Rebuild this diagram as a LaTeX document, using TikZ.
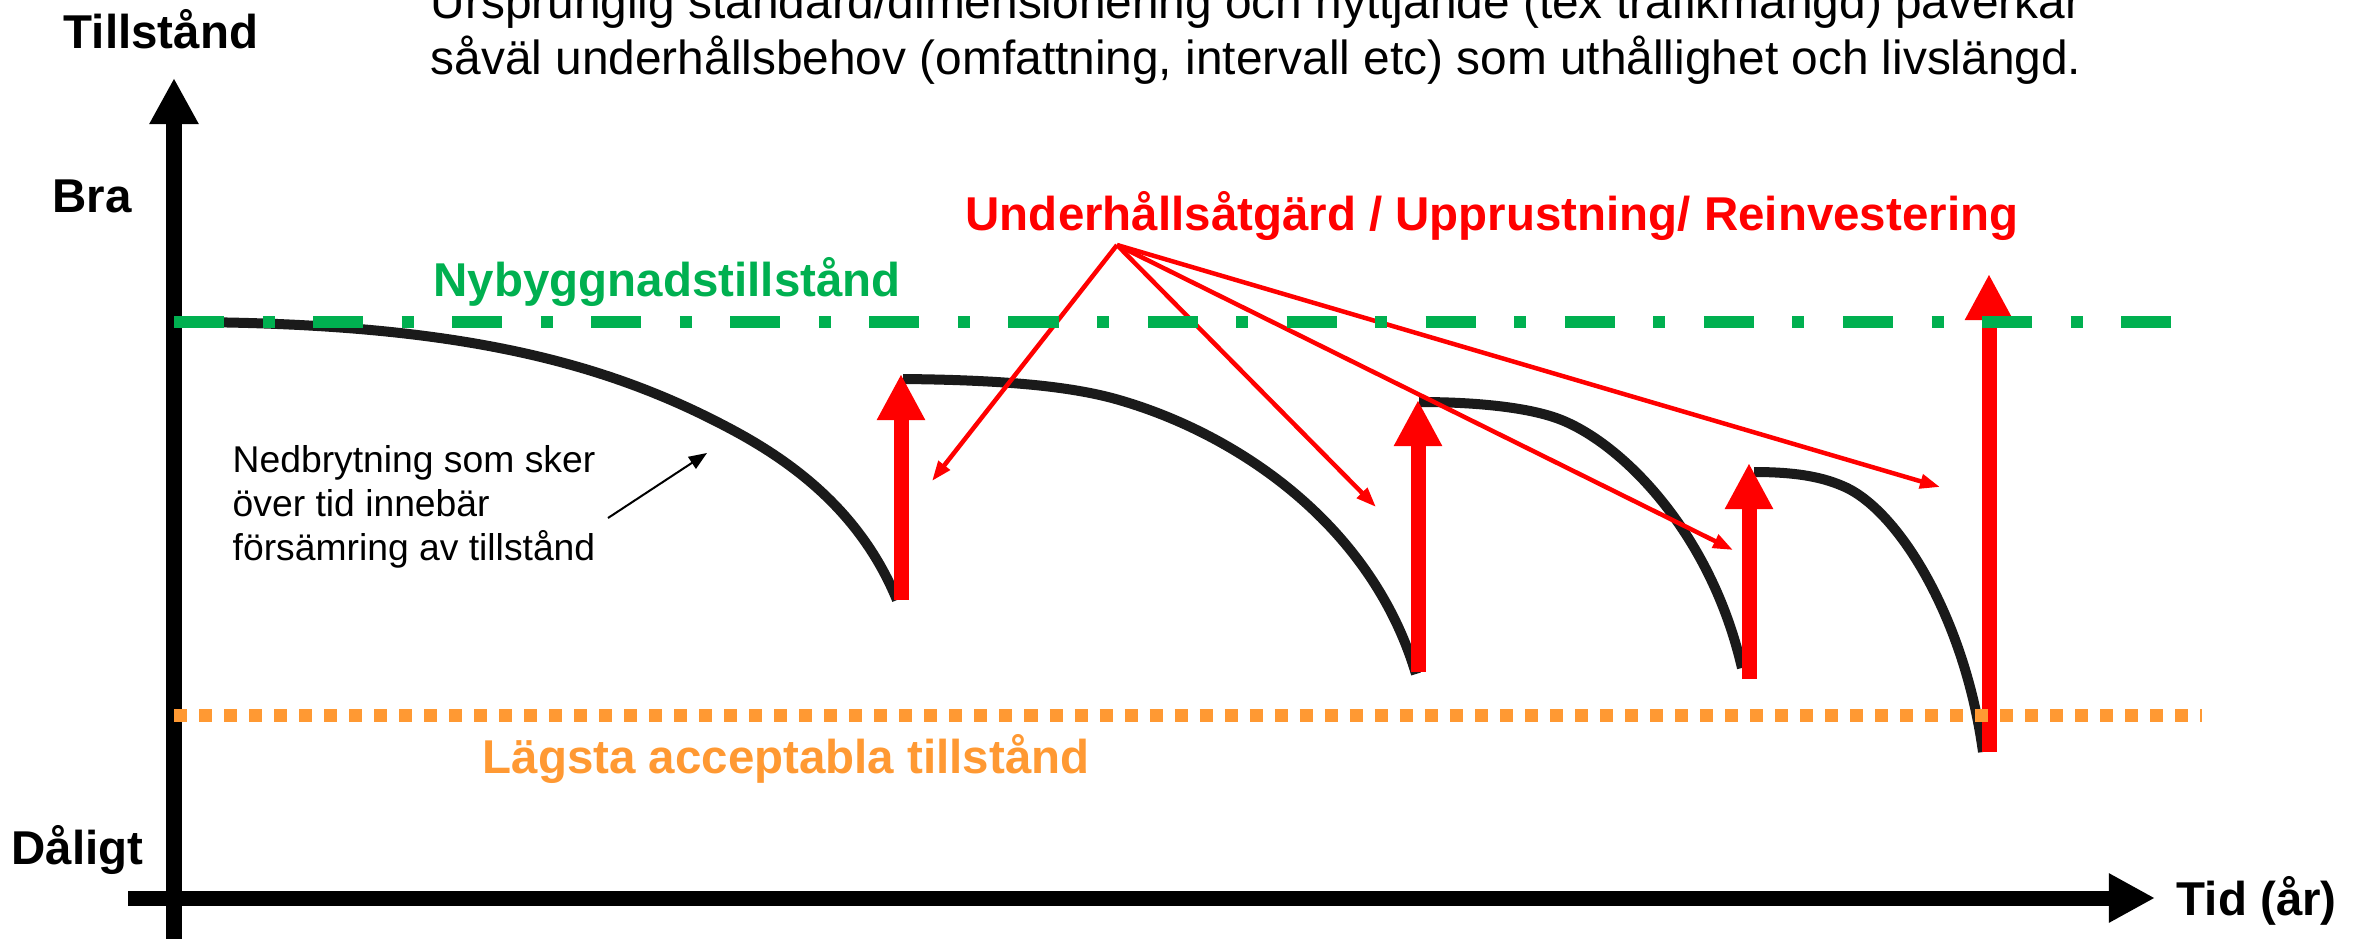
\documentclass[tikz,border=0pt]{standalone}
\usepackage{fontspec}
\setmainfont{Liberation Sans}
\usetikzlibrary{arrows.meta}
\definecolor{nygreen}{RGB}{0,176,80}
\definecolor{lagorange}{RGB}{255,153,51}
\definecolor{curveblack}{RGB}{26,26,26}
\tikzset{
  axis/.style={line width=0.15cm,-{Triangle[length=0.46cm,width=0.46cm]}},
  lift/.style={red,line width=0.15cm,-{Triangle[length=0.46cm,width=0.45cm]}},
  pointer/.style={red,line width=0.045cm,-{Triangle[length=0.2cm,width=0.14cm]}},
  wear/.style={curveblack,line width=0.1cm,line join=round},
  newline/.style={nygreen,line width=0.12cm,dash pattern=on 0.5cm off 0.385cm on 0.12cm off 0.385cm},
  lowline/.style={lagorange,line width=0.13cm,dash pattern=on 0.13cm off 0.12cm},
  lbl/.style={inner sep=0pt,anchor=base west,font=\fontsize{13.5}{16}\selectfont\bfseries},
  txt/.style={inner sep=0pt,anchor=north west,align=left}
}
\begin{document}
\begin{tikzpicture}[x=0.01cm,y=-0.01cm]
  \useasboundingbox (0,0) rectangle (2359,939);

  \node[txt,font=\fontsize{13.6}{15.9}\selectfont] (intro) at (430,-21)
    {Ursprunglig standard/dimensionering och nyttjande (tex trafikmängd) påverkar\\
     såväl underhållsbehov (omfattning, intervall etc) som uthållighet och livslängd.};

  \node[lbl] (ylabel) at (63,48) {Tillstånd};
  \node[lbl] (good) at (52,212) {Bra};
  \node[lbl] (bad) at (11,864) {Dåligt};
  \node[lbl] (xlabel) at (2176,915) {Tid (år)};
  \node[lbl,text=nygreen] (new) at (433,296) {Nybyggnadstillstånd};
  \node[lbl,text=lagorange] (low) at (482,773) {Lägsta acceptabla tillstånd};
  \node[lbl,text=red] (action) at (965,230) {Underhållsåtgärd / Upprustning/ Reinvestering};
  \node[txt,font=\fontsize{10.6}{12.5}\selectfont] (note) at (232,445)
    {Nedbrytning som sker\\över tid innebär\\försämring av tillstånd};

  \coordinate (ybot) at (174,945);
  \coordinate (ytop) at (174,78);
  \coordinate (xleft) at (128,898);
  \coordinate (xright) at (2155,898);
  \draw[axis] (ybot) -- (ytop);
  \draw[axis] (xleft) -- (xright);

  \draw[wear] (174,322) .. controls (450,322) and (600,360) .. (727,427)
    .. controls (790,460) and (860,510) .. (897,600);
  \draw[wear] (903,379) .. controls (1010,380) and (1070,387) .. (1112,398)
    .. controls (1230,430) and (1370,520) .. (1416,674);
  \draw[wear] (1419,402) .. controls (1480,402) and (1530,408) .. (1559,419)
    .. controls (1620,442) and (1710,530) .. (1742,668);
  \draw[wear] (1754,472) .. controls (1800,472) and (1825,478) .. (1845,487)
    .. controls (1900,512) and (1965,620) .. (1983,752);

  \coordinate (d1) at (901,600);
  \coordinate (u1) at (901,374);
  \coordinate (d2) at (1418,672);
  \coordinate (u2) at (1418,400);
  \coordinate (d3) at (1749,679);
  \coordinate (u3) at (1749,463);
  \coordinate (d4) at (1989,752);
  \coordinate (u4) at (1989,274);
  \foreach \i in {1,...,4}
    \draw[lift] (d\i) -- (u\i);

  \coordinate (apex) at (1117,245);
  \coordinate (p1) at (932,481);
  \coordinate (p2) at (1376,507);
  \coordinate (p3) at (1733,550);
  \coordinate (p4) at (1940,487);
  \foreach \i in {1,...,4}
    \draw[pointer] (apex) -- (p\i);

  \coordinate (nstart) at (608,518);
  \coordinate (ntip) at (707,453);
  \draw[line width=0.02cm,-{Triangle[length=0.18cm,width=0.14cm]}] (nstart) -- (ntip);

  \coordinate (n0) at (174,322);
  \coordinate (n1) at (2172,322);
  \draw[newline] (n0) -- (n1);
  \coordinate (l0) at (174,715);
  \coordinate (l1) at (2202,715);
  \draw[lowline] (l0) -- (l1);
\end{tikzpicture}
\end{document}
